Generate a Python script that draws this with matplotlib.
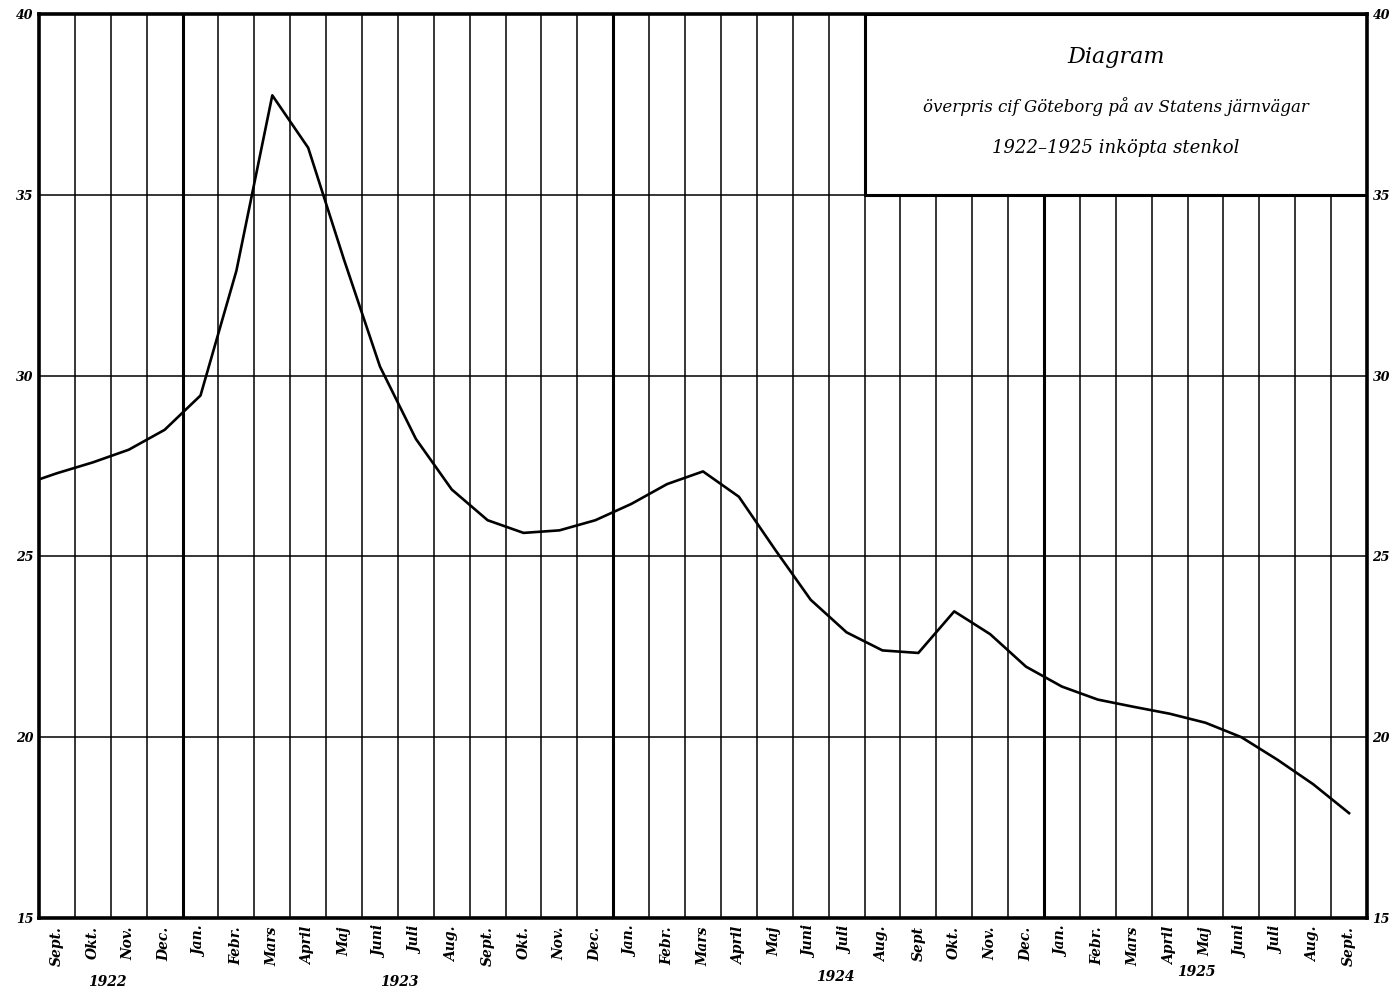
import numpy as np
import matplotlib
matplotlib.use("Agg")
import matplotlib.pyplot as plt
from matplotlib.patches import Rectangle

# ---- data ----
months = ["Sept.", "Okt.", "Nov.", "Dec.",
          "Jan.", "Febr.", "Mars", "April", "Maj", "Juni", "Juli", "Aug.", "Sept.", "Okt.", "Nov.", "Dec.",
          "Jan.", "Febr.", "Mars", "April", "Maj", "Juni", "Juli", "Aug.", "Sept", "Okt.", "Nov.", "Dec.",
          "Jan.", "Febr.", "Mars", "April", "Maj", "Juni", "Juli", "Aug.", "Sept."]
overpris = [27.3, 27.6, 27.95, 28.5,
            29.45, 32.9, 37.75, 36.3, 33.2, 30.25, 28.25, 26.85, 26.0, 25.65, 25.72, 26.0,
            26.45, 27.0, 27.35, 26.65, 25.2, 23.8, 22.9, 22.4, 22.33, 23.48, 22.85, 21.95,
            21.4, 21.04, 20.84, 20.65, 20.4, 20.0, 19.38, 18.7, 17.9]
start_value = 27.13          # value where the curve leaves the left frame
years = ["1922", "1923", "1924", "1925"]
y_ticks = [15, 20, 25, 30, 35, 40]
title_lines = ["Diagram",
               "överpris cif Göteborg på av Statens järnvägar",
               "1922–1925 inköpta stenkol"]

# ---- figure ----
W, H = 1393, 993
fig = plt.figure(figsize=(W / 100, H / 100), dpi=100)
ax = fig.add_axes([39 / W, 1 - 918 / H, (1367 - 39) / W, (918 - 14) / H])
n = len(months)
ax.set_xlim(0, n)
ax.set_ylim(15, 40)

lab_font = dict(family="DejaVu Serif", style="italic", weight="bold")

# vertical month lines
jan_idx = [i for i, m in enumerate(months) if m == "Jan."]
for b in range(1, n):
    lw = 2.2 if b in jan_idx else 1.1
    ax.axvline(b, color="black", lw=lw, zorder=1)
# horizontal lines
for v in y_ticks[1:-1]:
    ax.axhline(v, color="black", lw=1.1, zorder=1)

# title box (covers grid in its area)
box_x0 = 23
ax.add_patch(Rectangle((box_x0, 35), n - box_x0, 5, facecolor="white",
                       edgecolor="black", lw=2.2, zorder=2))

# curve
xs = np.concatenate([[0], np.arange(n) + 0.5])
ys = np.concatenate([[start_value], overpris])
ax.plot(xs, ys, color="black", lw=1.9, zorder=3, solid_joinstyle="round")

# frame
for s in ax.spines.values():
    s.set_linewidth(2.6)
    s.set_zorder(4)

# y ticks both sides
ax.set_yticks(y_ticks)
ax.set_yticklabels([str(v) for v in y_ticks], fontsize=9, **lab_font)
ax.tick_params(axis="y", length=0, pad=4, labelright=True, right=False)

# month labels
ax.set_xticks(np.arange(n) + 0.5)
ax.set_xticklabels(months, rotation=90, fontsize=10, va="top", ha="center", **lab_font)
ax.tick_params(axis="x", length=0, pad=6)

# year labels
year_pos = [(1.9, 982), (10.05, 982), (22.2, 977), (32.25, 972)]
for yr, (xp, yp) in zip(years, year_pos):
    ax.text(xp, 1 - yp / H, yr, transform=ax.get_xaxis_transform() if False else
            matplotlib.transforms.blended_transform_factory(ax.transData, fig.transFigure),
            ha="center", va="center", fontsize=10, **lab_font)

# title texts
cx = (box_x0 + n) / 2
ax.text(cx, 38.8, title_lines[0], ha="center", va="center", fontsize=16,
        family="DejaVu Serif", style="italic", zorder=5)
ax.text(cx, 37.45, title_lines[1], ha="center", va="center", fontsize=12,
        family="DejaVu Serif", style="italic", zorder=5)
ax.text(cx, 36.3, title_lines[2], ha="center", va="center", fontsize=13,
        family="DejaVu Serif", style="italic", zorder=5)

fig.savefig("out.png", dpi=100, facecolor="white")
